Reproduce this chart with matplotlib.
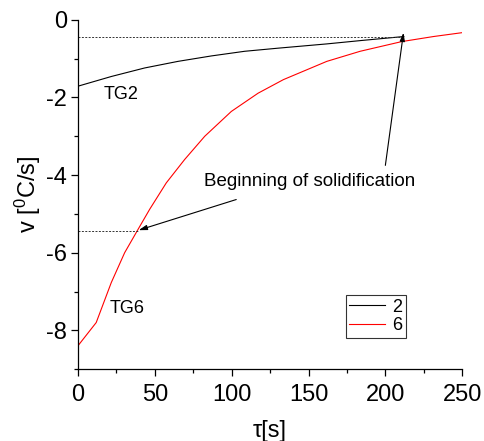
import matplotlib
matplotlib.use("Agg")
import matplotlib.pyplot as plt
from matplotlib.ticker import MultipleLocator

FONT = ["Liberation Sans", "DejaVu Sans"]
plt.rcParams['font.family'] = FONT
plt.rcParams['axes.unicode_minus'] = False
plt.rcParams['mathtext.fontset'] = 'custom'
plt.rcParams['mathtext.rm'] = 'Liberation Sans'
plt.rcParams['mathtext.it'] = 'Liberation Sans'

# Data
tg2_t = [0, 21.7, 43.4, 65.1, 86.8, 108.5, 130.2, 161.9, 185, 212]
tg2_v = [-1.71, -1.46, -1.24, -1.07, -0.93, -0.81, -0.73, -0.62, -0.53, -0.43]

tg6_t = [0, 11.9, 21.7, 30.4, 39.1, 46.7, 57.5, 69.4, 82.5, 99.8, 117.2, 133.7,
         161.9, 183.6, 210.7, 231.3, 250]
tg6_v = [-8.40, -7.80, -6.77, -6.00, -5.40, -4.88, -4.20, -3.60, -3.00, -2.36,
         -1.89, -1.54, -1.07, -0.81, -0.56, -0.43, -0.33]

legend_labels = ["2", "6"]
start_t = [212, 40]
start_v = [-0.43, -5.43]

fig = plt.figure(figsize=(4.84, 4.41), dpi=100)
ax = fig.add_axes([0.161, 0.163, 0.794, 0.792])

l2, = ax.plot(tg2_t, tg2_v, color='black', lw=0.8, label=legend_labels[0])
l6, = ax.plot(tg6_t, tg6_v, color='red', lw=0.8, label=legend_labels[1])

# dotted guide lines at solidification start
for t, v in zip(start_t, start_v):
    ax.plot([0, t], [v, v], color='#333333', lw=0.7, ls=(0, (2, 1.5)))

ax.set_xlim(0, 250)
ax.set_ylim(-9, 0)
ax.xaxis.set_major_locator(MultipleLocator(50))
ax.xaxis.set_minor_locator(MultipleLocator(25))
ax.yaxis.set_major_locator(MultipleLocator(2))
ax.yaxis.set_minor_locator(MultipleLocator(1))
for s in ['top', 'right']:
    ax.spines[s].set_visible(False)
for s in ['left', 'bottom']:
    ax.spines[s].set_linewidth(0.9)
ax.tick_params(which='major', direction='out', length=5, width=0.9, labelsize=17)
ax.tick_params(axis='x', which='major', pad=6)
ax.tick_params(axis='y', which='major', pad=3)
ax.tick_params(which='minor', direction='out', length=3, width=0.9)

ax.set_xlabel(r'τ[s]', fontsize=17, labelpad=10)
ax.set_ylabel(r'v [$^{0}$C/s]', fontsize=17, labelpad=2)

ax.text(16.5, -1.93, 'TG2', fontsize=13, va='center', ha='left')
ax.text(20.5, -7.45, 'TG6', fontsize=13, va='center', ha='left')
ax.text(151, -4.16, 'Beginning of solidification', fontsize=13.5, va='center', ha='center')

arrowprops = dict(arrowstyle='-|>,head_length=0.5,head_width=0.15', color='black', lw=0.8,
                  shrinkA=0, shrinkB=0)
ax.annotate('', xy=(211.8, -0.33), xytext=(200, -3.75), arrowprops=arrowprops)
ax.annotate('', xy=(39.5, -5.42), xytext=(103, -4.63), arrowprops=arrowprops)

leg = fig.legend(handles=[l2, l6], loc='upper left', bbox_to_anchor=(0.714, 0.331),
                 fontsize=13, frameon=True, fancybox=False, handlelength=2.0,
                 handletextpad=0.4, borderpad=0.2, labelspacing=0.1, borderaxespad=0)
leg.get_frame().set_edgecolor('black')
leg.get_frame().set_linewidth(0.8)

fig.savefig('out.png', dpi=100)
